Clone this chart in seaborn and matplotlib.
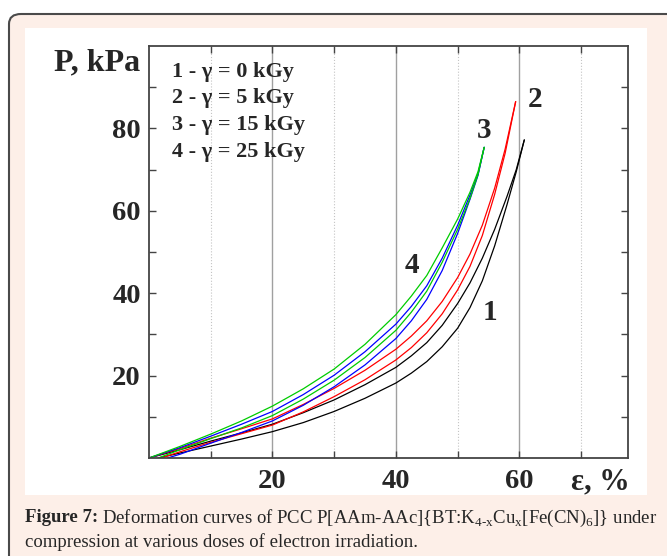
import matplotlib
matplotlib.use("Agg")
import matplotlib.pyplot as plt
from matplotlib.patches import FancyBboxPatch, Rectangle
from matplotlib.ticker import FixedLocator, NullFormatter
import pandas as pd
import seaborn as sns

# curve 1 (0 kGy) - loading / unloading
eps_1a = [0, 5, 10, 15, 20, 25, 30, 35, 40, 42.5, 45, 47.5, 50, 52, 54, 56, 58, 59.5, 60.8]
p_1a = [0, 2.0, 4.1, 6.1, 8.2, 11.0, 14.1, 17.8, 22.0, 24.8, 28.0, 32.2, 37.5, 42.5, 48.5, 55.5, 63.5, 70.0, 77.2]
eps_1b = [1.5, 5, 10, 15, 20, 25, 30, 35, 40, 42.5, 45, 47.5, 50, 52, 54, 56, 58, 59.5, 60.8]
p_1b = [0, 1.2, 2.9, 4.6, 6.4, 8.6, 11.3, 14.5, 18.2, 20.6, 23.4, 27.0, 31.5, 36.5, 43.0, 51.5, 61.5, 69.5, 77.2]

# curve 2 (5 kGy)
eps_2a = [0, 5, 10, 15, 20, 25, 30, 35, 40, 42.5, 45, 47.5, 50, 52, 54, 56, 57.7, 59.4]
p_2a = [0, 2.3, 4.8, 7.1, 9.5, 13.0, 16.9, 21.3, 26.4, 29.6, 33.3, 38.0, 43.8, 49.5, 56.5, 65.5, 75.0, 86.5]
eps_2b = [2, 5, 10, 15, 20, 25, 30, 35, 40, 42.5, 45, 47.5, 50, 52, 54, 56, 57.7, 59.4]
p_2b = [0, 1.5, 3.8, 5.9, 8.0, 11.2, 14.9, 19.0, 23.8, 26.8, 30.4, 35.0, 40.8, 46.5, 54.0, 64.0, 74.0, 86.5]

# curve 3 (15 kGy)
eps_3a = [0, 5, 10, 15, 20, 25, 30, 35, 40, 42.5, 45, 47.5, 50, 52, 53.3, 54.3]
p_3a = [0, 2.5, 5.3, 8.2, 11.3, 15.4, 20.1, 25.8, 32.5, 36.8, 41.8, 48.5, 56.5, 63.8, 69.0, 75.4]
eps_3b = [3, 5, 10, 15, 20, 25, 30, 35, 40, 42.5, 45, 47.5, 50, 52, 53.3, 54.3]
p_3b = [0, 0.9, 3.6, 6.2, 9.0, 12.8, 17.3, 22.6, 29.0, 33.3, 38.5, 45.5, 54.5, 62.8, 68.6, 75.4]

# curve 4 (25 kGy)
eps_4a = [0, 5, 10, 15, 20, 25, 30, 35, 40, 42.5, 45, 47.5, 50, 52, 53.3, 54.3]
p_4a = [0, 2.8, 5.8, 9.0, 12.6, 16.8, 21.6, 27.6, 34.8, 39.3, 44.3, 51.0, 58.0, 64.5, 69.5, 75.4]
eps_4b = [1.5, 5, 10, 15, 20, 25, 30, 35, 40, 42.5, 45, 47.5, 50, 52, 53.3, 54.3]
p_4b = [0, 2.0, 4.7, 7.3, 10.3, 14.3, 18.9, 24.4, 31.0, 35.4, 40.5, 47.5, 55.5, 63.0, 68.8, 75.4]

legend_lines = ["1 - \u03b3 = 0 kGy", "2 - \u03b3 = 5 kGy", "3 - \u03b3 = 15 kGy", "4 - \u03b3 = 25 kGy"]
x_ticks = [20, 40, 60]
y_ticks = [20, 40, 60, 80]

curves = {
    "1a": (eps_1a, p_1a), "1b": (eps_1b, p_1b),
    "2a": (eps_2a, p_2a), "2b": (eps_2b, p_2b),
    "3a": (eps_3a, p_3a), "3b": (eps_3b, p_3b),
    "4a": (eps_4a, p_4a), "4b": (eps_4b, p_4b),
}
rows = []
for name, (xs, ys) in curves.items():
    for x, y in zip(xs, ys):
        rows.append({"curve": name, "eps": x, "P": y})
df = pd.DataFrame(rows)

colors = {"1": "black", "2": "#ff0000", "3": "#0000ff", "4": "#00cc00"}
palette = {name: colors[name[0]] for name in curves}

sns.set_style("white")
plt.rcParams["font.family"] = ["Liberation Serif", "DejaVu Serif"]
plt.rcParams["mathtext.fontset"] = "custom"
plt.rcParams["mathtext.rm"] = "Liberation Serif"

W, H = 667, 556
fig = plt.figure(figsize=(W / 100, H / 100), dpi=100)
fig.patch.set_facecolor("white")

# outer frame and white panel
fig.patches.append(FancyBboxPatch((9 / W, -0.05), 1.1, 1 - 14 / H + 0.05,
                                  boxstyle="round,pad=0,rounding_size=0.018",
                                  transform=fig.transFigure, facecolor="#fdefe8",
                                  edgecolor="#4a4a4a", lw=1.5, zorder=-3))
fig.patches.append(Rectangle((25 / W, 1 - 495 / H), 622 / W, 467 / H,
                             transform=fig.transFigure, facecolor="white",
                             edgecolor="none", zorder=-2))

ax = fig.add_axes([149 / W, 1 - 458 / H, 479 / W, 412 / H])
ax.set_facecolor("white")

sns.lineplot(data=df, x="eps", y="P", hue="curve", units="curve", palette=palette,
             sort=False, estimator=None, legend=False, lw=0.9, ax=ax)

ax.set_xlim(0, 77.6)
ax.set_ylim(0, 100)
ax.set_xlabel("")
ax.set_ylabel("")

ax.xaxis.set_major_locator(FixedLocator(x_ticks))
ax.xaxis.set_minor_locator(FixedLocator([10, 30, 50, 70]))
ax.yaxis.set_major_locator(FixedLocator(y_ticks))
ax.yaxis.set_minor_locator(FixedLocator([10, 30, 50, 70, 90]))
ax.xaxis.set_minor_formatter(NullFormatter())
ax.yaxis.set_minor_formatter(NullFormatter())
ax.grid(False)
ax.grid(True, axis="x", which="major", color="#a0a0a0", lw=1.0, ls="-")
ax.grid(True, axis="x", which="minor", color="#c4c4c4", lw=0.8, ls=":")
ax.set_axisbelow(True)

for which in ("major", "minor"):
    ax.tick_params(axis="both", which=which, direction="in", top=True, right=True,
                   bottom=True, left=True, length=5, width=1.0, color="#444444")
ax.tick_params(axis="x", which="major", pad=8)
ax.tick_params(axis="y", which="major", pad=6)
for lab in ax.get_xticklabels() + ax.get_yticklabels():
    lab.set_fontsize(20.5)
    lab.set_fontweight("bold")
for sp in ax.spines.values():
    sp.set_color("#444444")
    sp.set_linewidth(1.3)

# legend text inside the axes
for i, txt in enumerate(legend_lines):
    ax.text(3.7, 93.8 - 6.5 * i, txt, fontsize=16, fontweight="bold",
            ha="left", va="center")

# curve numbers
for lab, x, y in [("1", 55.3, 35.2), ("2", 62.6, 87.0), ("3", 54.3, 79.6), ("4", 42.6, 46.8)]:
    ax.text(x, y, lab, fontsize=21, fontweight="bold", ha="center", va="center")

# axis titles
fig.text(140 / W, 1 - 63 / H, "P, kPa", fontsize=23, fontweight="bold",
         ha="right", va="center")
fig.text(630 / W, 1 - 482 / H, "\u03b5, %", fontsize=22, fontweight="bold",
         ha="right", va="center")

# caption
cap_size = 13.5
t1 = fig.text(25 / W, 1 - 518 / H, "Figure 7:", fontsize=cap_size, fontweight="bold",
              ha="left", va="center")
fig.canvas.draw()
x_end = t1.get_window_extent().x1
fig.text((x_end + 4) / W, 1 - 518 / H,
         r"Deformation curves of PCC P[AAm-AAc]{BT:K$_{\mathrm{4\text{-}x}}$Cu$_{\mathrm{x}}$[Fe(CN)$_{\mathrm{6}}$]} under",
         fontsize=cap_size, ha="left", va="center")
fig.text(25 / W, 1 - 542 / H, "compression at various doses of electron irradiation.",
         fontsize=cap_size, ha="left", va="center")

fig.savefig("out.png", dpi=100)
